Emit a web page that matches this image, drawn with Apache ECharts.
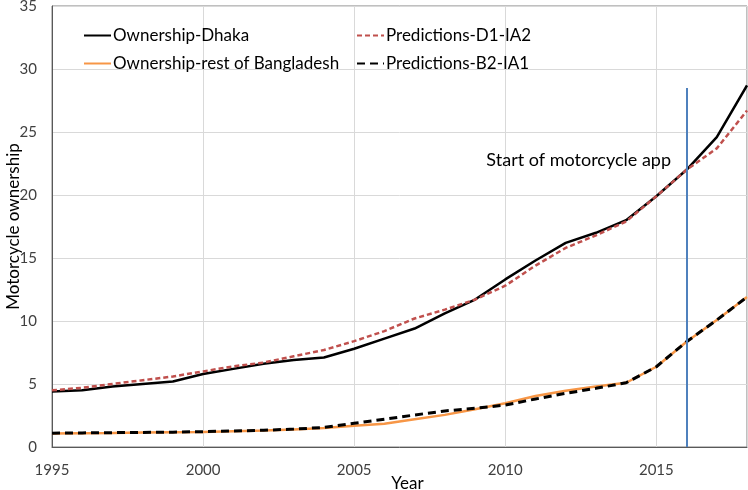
<!DOCTYPE html>
<html>
<head>
<meta charset="utf-8">
<script src="https://cdn.jsdelivr.net/npm/echarts@6/dist/echarts.min.js"></script>
<style>html,body{margin:0;padding:0;background:#fff}#c{width:748px;height:490px}</style>
</head>
<body>
<div id="c"></div>
<script>
var years = [1995,1996,1997,1998,1999,2000,2001,2002,2003,2004,2005,2006,2007,2008,2009,2010,2011,2012,2013,2014,2015,2016,2017,2018];
var ownershipDhaka = [4.4,4.5,4.8,5.0,5.2,5.8,6.2,6.6,6.9,7.1,7.8,8.6,9.4,10.6,11.7,13.3,14.8,16.2,17.0,18.0,19.9,22.0,24.6,28.7];
var predictionsD1IA2 = [4.5,4.7,5.0,5.3,5.6,6.0,6.4,6.7,7.2,7.7,8.4,9.2,10.2,10.9,11.7,12.8,14.4,15.8,16.8,17.9,19.9,22.0,23.7,26.7];
var ownershipRest = [1.08,1.1,1.12,1.15,1.18,1.2,1.25,1.3,1.38,1.5,1.69,1.85,2.2,2.55,3.0,3.47,4.05,4.47,4.8,5.1,6.37,8.36,10.08,11.9];
var predictionsB2IA1 = [1.1,1.12,1.14,1.16,1.18,1.22,1.27,1.33,1.42,1.55,1.88,2.2,2.54,2.86,3.07,3.33,3.81,4.26,4.66,5.1,6.37,8.36,10.08,11.9];
var seriesNames = ['Ownership-Dhaka','Predictions-D1-IA2','Ownership-rest of Bangladesh','Predictions-B2-IA1'];
var yTicks = [0,5,10,15,20,25,30,35];
var appYear = 2016;
var appLineTop = 28.5;
var annotationText = 'Start of motorcycle app';
var annotationAt = [2012.43, 22.8];

function pairs(v){ return years.map(function(y,i){ return [y, v[i]]; }); }

var FONT = 'Lato';
var chart = echarts.init(document.getElementById('c'), null, {renderer:'canvas'});
var legendText = {fontSize:17, color:'#000', fontFamily:FONT, padding:[0,0,0,-3]};
chart.setOption({
  animation:false,
  backgroundColor:'#fff',
  textStyle:{fontFamily:FONT},
  grid:{left:52, right:1, top:6, bottom:43, show:true, borderColor:'#808080', borderWidth:1,
        containLabel:false, outerBoundsMode:'none'},
  legend:[
    {orient:'vertical', left:83, top:27, padding:0, itemWidth:27, itemHeight:2, itemGap:11,
     itemStyle:{opacity:0},
     data:[seriesNames[0], seriesNames[2]], textStyle:legendText},
    {orient:'vertical', left:356, top:27, padding:0, itemWidth:27, itemHeight:2, itemGap:11,
     itemStyle:{opacity:0},
     data:[seriesNames[1], seriesNames[3]], textStyle:legendText}
  ],
  xAxis:{
    type:'value', min:1995, max:2018, interval:5,
    name:'Year', nameLocation:'middle', nameGap:28, nameMoveOverlap:false,
    nameTextStyle:{fontSize:17, color:'#000', fontFamily:FONT, padding:[0,0,0,16]},
    axisLine:{show:true, lineStyle:{color:'#595959', width:1}},
    axisTick:{show:false},
    axisLabel:{fontSize:15, color:'#404040', margin:16, showMaxLabel:false,
      formatter:function(v){ return (v % 5 === 0) ? String(v) : ''; }},
    splitLine:{show:true, lineStyle:{color:'#d9d9d9', width:1}}
  },
  yAxis:{
    type:'value', min:yTicks[0], max:yTicks[yTicks.length-1], interval:5,
    name:'Motorcycle ownership', nameLocation:'middle', nameGap:30, nameMoveOverlap:false,
    nameTextStyle:{fontSize:17, color:'#000', fontFamily:FONT},
    axisLine:{show:true, lineStyle:{color:'#595959', width:1}},
    axisTick:{show:false},
    axisLabel:{fontSize:15, color:'#404040', margin:15},
    splitLine:{show:true, lineStyle:{color:'#d9d9d9', width:1}}
  },
  series:[
    {name:seriesNames[0], type:'line', data:pairs(ownershipDhaka), symbol:'none', z:3,
     lineStyle:{color:'#000', width:2.5}, itemStyle:{color:'#000'}},
    {name:seriesNames[1], type:'line', data:pairs(predictionsD1IA2), symbol:'none', z:4,
     lineStyle:{color:'#C0504D', width:2.5, type:[5,3]}, itemStyle:{color:'#C0504D'}},
    {name:seriesNames[2], type:'line', data:pairs(ownershipRest), symbol:'none', z:3,
     lineStyle:{color:'#F79646', width:2.5}, itemStyle:{color:'#F79646'}},
    {name:seriesNames[3], type:'line', data:pairs(predictionsB2IA1), symbol:'none', z:4,
     lineStyle:{color:'#000', width:3, type:[8,5]}, itemStyle:{color:'#000'},
     markLine:{silent:true, symbol:'none', animation:false,
       lineStyle:{color:'#4F81BD', width:2, type:'solid'}, label:{show:false},
       data:[[{coord:[appYear,0]},{coord:[appYear,appLineTop]}]]},
     markPoint:{silent:true, symbol:'circle', symbolSize:0,
       label:{show:true, position:'inside', formatter:annotationText, fontSize:18, color:'#000', fontFamily:FONT},
       data:[{coord:annotationAt}]}
    }
  ]
});
</script>
</body>
</html>
